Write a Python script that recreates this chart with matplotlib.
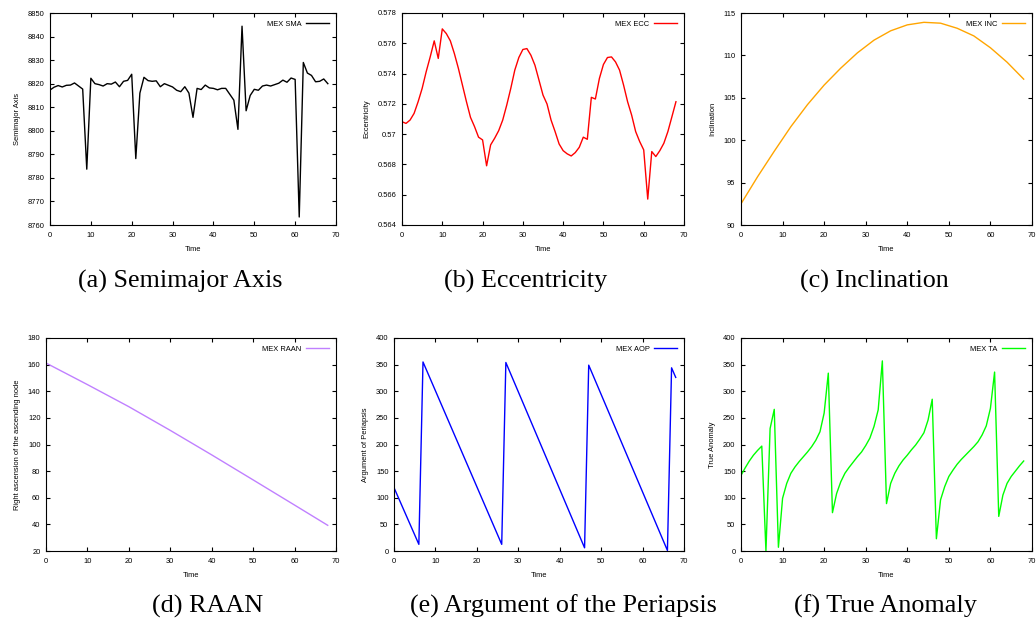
import numpy as np
import matplotlib
matplotlib.use('Agg')
import matplotlib.pyplot as plt

# Time samples
time = list(range(69))

# Semimajor axis
sma = [8817.3, 8818.5, 8819.2, 8818.6, 8819.3, 8819.4, 8820.3, 8819.0, 8817.7, 8783.7,
       8822.3, 8820.0, 8819.6, 8819.0, 8820.0, 8819.8, 8820.7, 8818.7, 8821.0, 8821.4,
       8824.0, 8788.2, 8816.0, 8822.7, 8821.3, 8821.0, 8821.2, 8818.7, 8820.0, 8819.3,
       8818.6, 8817.2, 8816.6, 8818.7, 8816.0, 8805.7, 8818.0, 8817.5, 8819.4, 8818.2,
       8818.0, 8817.4, 8818.0, 8818.0, 8815.5, 8813.0, 8800.6, 8844.4, 8808.5, 8815.0,
       8817.6, 8817.2, 8819.0, 8819.4, 8819.0, 8819.6, 8820.2, 8821.5, 8820.6, 8822.4,
       8821.8, 8763.4, 8829.0, 8824.5, 8823.5, 8820.8, 8821.0, 8822.0, 8820.0]

# Eccentricity
ecc = [0.57082, 0.57071, 0.57093, 0.57137, 0.57214, 0.57302, 0.57412, 0.57510, 0.57616, 0.57500,
       0.57695, 0.57664, 0.57616, 0.57532, 0.57434, 0.57324, 0.57214, 0.57111, 0.57050, 0.56980,
       0.56962, 0.56791, 0.56929, 0.56973, 0.57023, 0.57093, 0.57192, 0.57302, 0.57423, 0.57506,
       0.57559, 0.57565, 0.57521, 0.57455, 0.57357, 0.57258, 0.57199, 0.57093, 0.57017, 0.56935,
       0.56891, 0.56870, 0.56856, 0.56878, 0.56913, 0.56980, 0.56966, 0.57243, 0.57232, 0.57368,
       0.57460, 0.57506, 0.57510, 0.57477, 0.57423, 0.57324, 0.57214, 0.57126, 0.57017, 0.56951,
       0.56896, 0.56571, 0.56885, 0.56852, 0.56891, 0.56940, 0.57017, 0.57115, 0.57214]

# Inclination (smooth, read every 4 units)
inc_time = [0, 4, 8, 12, 16, 20, 24, 28, 32, 36, 40, 44, 48, 52, 56, 60, 64, 68]
inc = [92.5, 95.7, 98.7, 101.6, 104.2, 106.5, 108.5, 110.3, 111.8, 112.9,
       113.6, 113.9, 113.8, 113.2, 112.3, 110.9, 109.2, 107.2]

# RAAN
raan_time = [0, 10, 20, 30, 40, 50, 60, 68]
raan = [161.2, 145.0, 128.4, 110.6, 92.2, 73.4, 54.5, 39.3]

# Argument of periapsis (straight segments between wraps)
aop_time = [0, 6, 7, 26, 27, 46, 47, 66, 67, 68]
aop = [119, 12.5, 355, 12.5, 354, 6, 349, 1, 344, 326]

# True anomaly
ta = [142, 156, 169, 180, 189, 197, 0, 230, 266, 7,
      99, 127, 146, 158, 168, 177, 186, 196, 208, 224,
      259, 334, 72, 108, 130, 146, 157, 167, 177, 186,
      198, 212, 234, 265, 357, 89, 127, 146, 160, 171,
      180, 190, 199, 210, 222, 246, 285, 23, 96, 121,
      140, 152, 163, 172, 180, 188, 196, 205, 218, 235,
      268, 336, 65, 105, 127, 140, 150, 160, 169]

W, H = 1036, 623
fig = plt.figure(figsize=(W / 100, H / 100), dpi=100)

tick_font = 'Liberation Sans'
fs = 5.4


def make_axes(x0, y0, x1, y1):
    return fig.add_axes([x0 / W, 1 - y1 / H, (x1 - x0) / W, (y1 - y0) / H])


def style(ax, yticks, ylabel, yticklabels=None):
    ax.set_xlim(0, 70)
    ax.set_xticks(range(0, 71, 10))
    ax.set_ylim(yticks[0], yticks[-1])
    ax.set_yticks(yticks)
    if yticklabels is not None:
        ax.set_yticklabels(yticklabels)
    ax.tick_params(direction='in', length=3, width=0.8, top=True, right=True,
                   labelsize=fs)
    ax.tick_params(axis='x', pad=5)
    ax.tick_params(axis='y', pad=4)
    for lab in ax.get_xticklabels() + ax.get_yticklabels():
        lab.set_fontfamily(tick_font)
    ax.set_xlabel('Time', fontsize=fs, fontfamily=tick_font, labelpad=5)
    ax.set_ylabel(ylabel, fontsize=fs, fontfamily=tick_font, labelpad=5)
    for s in ax.spines.values():
        s.set_linewidth(0.8)
    ax.legend(loc='upper right', frameon=False, markerfirst=False,
              prop={'family': tick_font, 'size': fs}, handlelength=3.0,
              borderaxespad=0.6, handletextpad=0.6)


# (a) Semimajor Axis
ax = make_axes(50, 13, 336, 225)
ax.plot(time, sma, color='black', lw=1.0, label='MEX SMA')
style(ax, list(range(8760, 8851, 10)), 'Semimajor Axis')

# (b) Eccentricity
ax = make_axes(402, 13, 684, 225)
ax.plot(time, ecc, color='#ff0000', lw=1.0, label='MEX ECC')
ecc_ticks = [0.564, 0.566, 0.568, 0.570, 0.572, 0.574, 0.576, 0.578]
style(ax, ecc_ticks, 'Eccentricity', ['%g' % t for t in ecc_ticks])

# (c) Inclination
ax = make_axes(741, 13, 1032, 225)
ax.plot(inc_time, inc, color='#ffa500', lw=1.0, label='MEX INC')
style(ax, list(range(90, 116, 5)), 'Inclination')

# (d) RAAN
ax = make_axes(46, 338, 336, 551)
ax.plot(raan_time, raan, color='#c080ff', lw=1.0, label='MEX RAAN')
style(ax, list(range(20, 181, 20)), 'Right ascension of the ascending node')

# (e) Argument of the Periapsis
ax = make_axes(394, 338, 684, 551)
ax.plot(aop_time, aop, color='#0000ff', lw=1.0, label='MEX AOP')
style(ax, list(range(0, 401, 50)), 'Argument of Periapsis')

# (f) True Anomaly
ax = make_axes(741, 338, 1032, 551)
ax.plot(time, ta, color='#00ff00', lw=1.0, label='MEX TA')
style(ax, list(range(0, 401, 50)), 'True Anomaly')

# Sub-figure captions
captions = ['(a) Semimajor Axis', '(b) Eccentricity', '(c) Inclination',
            '(d) RAAN', '(e) Argument of the Periapsis', '(f) True Anomaly']
cap_x = [180, 526, 874, 208, 563, 885]
cap_y = [288, 288, 288, 613, 613, 613]
for c, cx, cy in zip(captions, cap_x, cap_y):
    fig.text(cx / W, 1 - cy / H, c, ha='center', va='baseline',
             fontfamily='Liberation Serif', fontsize=18.8)

fig.savefig('out.png', dpi=100)
